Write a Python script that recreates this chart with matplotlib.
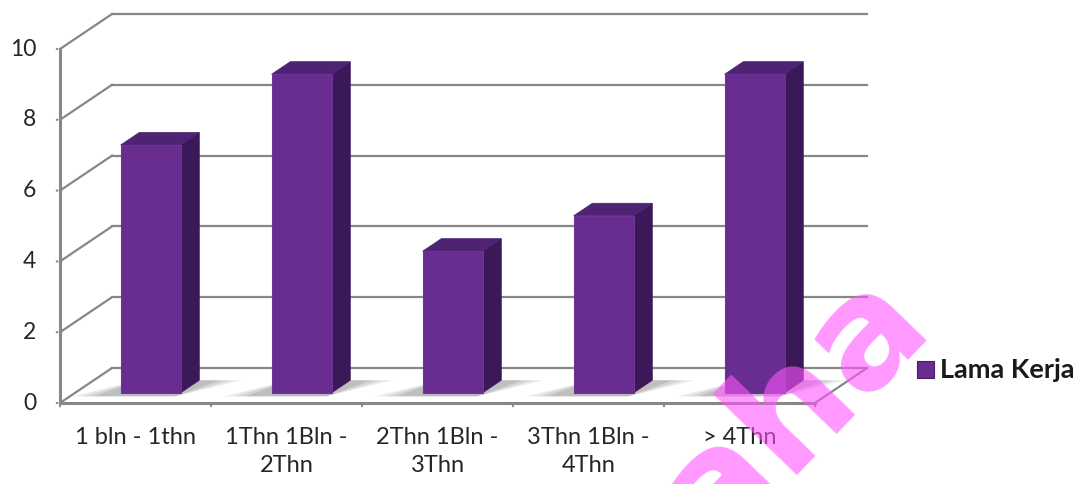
import numpy as np
import matplotlib
matplotlib.use("Agg")
import matplotlib.pyplot as plt
from matplotlib.patches import Polygon, Rectangle

# data
categories = ["1 bln - 1thn", "1Thn 1Bln -\n2Thn", "2Thn 1Bln -\n3Thn",
              "3Thn 1Bln -\n4Thn", "> 4Thn"]
values = [7, 9, 4, 5, 9]
yticks = [0, 2, 4, 6, 8, 10]
series_name = "Lama Kerja"

plt.rcParams['font.family'] = ['Lato', 'DejaVu Sans']

W, H = 1086, 484
fig = plt.figure(figsize=(W / 100, H / 100), dpi=100)
ax = fig.add_axes([0, 0, 1, 1])

# pixel layout of the front plane
px_x0, px_cat = 60, 151.0
px_y0, px_val = 403, 35.4
ax.set_xlim(-px_x0 / px_cat, (W - px_x0) / px_cat)
ax.set_ylim(-(H - px_y0) / px_val, px_y0 / px_val)
ax.axis("off")

# depth offset (category units, value units)
DX, DY = 52 / px_cat, 35 / px_val


def proj(x, y, d):
    return x + d * DX, y + d * DY


grid_c = "#878787"
lw = 1.6
n = len(categories)

# back wall grid + left wall
for v in yticks:
    x1, y1 = proj(0, v, 1)
    x2, y2 = proj(n, v, 1)
    ax.plot([x1, x2], [y1, y2], color=grid_c, lw=lw, zorder=1)
    xa, ya = proj(0, v, 0)
    ax.plot([xa, x1], [ya, y1], color=grid_c, lw=lw, zorder=1)
    ax.annotate(str(v), (0, v), xytext=(-24, 0), textcoords="offset pixels",
                ha="right", va="center", fontsize=16.5, color="#262626")
    ax.annotate("", (0, v), xytext=(-6, 0), textcoords="offset pixels",
                arrowprops=dict(arrowstyle="-", color=grid_c, lw=lw))

# floor right edge, front axes
xr, yr = proj(n, 0, 1)
ax.plot([n, xr], [0, yr], color=grid_c, lw=lw, zorder=1)
ax.plot([0, n], [0, 0], color=grid_c, lw=2.2, zorder=1)
ax.plot([0, 0], [0, yticks[-1]], color=grid_c, lw=2.2, zorder=1)
for i in range(n + 1):
    ax.annotate("", (i, 0), xytext=(0, -6), textcoords="offset pixels",
                arrowprops=dict(arrowstyle="-", color=grid_c, lw=lw))

# bars
d0, d1 = 0.29, 0.65
bw = 60 / px_cat
front_c, side_c, top_c = "#692C91", "#3B1858", "#4E2373"
for i, v in enumerate(values):
    xc = i + 0.5
    xl, xrr = xc - bw / 2, xc + bw / 2
    # soft shadow on the floor
    for k, a in enumerate([0.12, 0.14, 0.16]):
        ext = 0.28 - k * 0.07
        sh = [proj(xl - ext, 0, d0 - 0.1), proj(xrr, 0, d0 - 0.1),
              proj(xrr + ext, 0, d1), proj(xl, 0, d1)]
        ax.add_patch(Polygon(sh, closed=True, fc="#555555", ec="none",
                             alpha=a, zorder=2))
    front = [proj(xl, 0, d0), proj(xrr, 0, d0), proj(xrr, v, d0), proj(xl, v, d0)]
    side = [proj(xrr, 0, d0), proj(xrr, 0, d1), proj(xrr, v, d1), proj(xrr, v, d0)]
    top = [proj(xl, v, d0), proj(xrr, v, d0), proj(xrr, v, d1), proj(xl, v, d1)]
    ax.add_patch(Polygon(side, closed=True, fc=side_c, ec=side_c, lw=0.5, zorder=3))
    ax.add_patch(Polygon(top, closed=True, fc=top_c, ec=top_c, lw=0.5, zorder=3))
    ax.add_patch(Polygon(front, closed=True, fc=front_c, ec="#6f3498", lw=0.8, zorder=4))

# category labels
for i, lab in enumerate(categories):
    ax.annotate(lab, (i + 0.5, 0), xytext=(0, -24), textcoords="offset pixels",
                ha="center", va="top", fontsize=17, color="#262626",
                linespacing=1.4)

# legend
lx = (917 - px_x0) / px_cat
ly = (px_y0 - 378) / px_val
ax.add_patch(Rectangle((lx, ly), 17 / px_cat, 17 / px_val, fc=front_c,
                       ec="#4a1f6a", lw=0.8, zorder=5))
ax.annotate(series_name, (lx, ly + 8.5 / px_val), xytext=(23, 0),
            textcoords="offset pixels", ha="left", va="center",
            fontsize=19.5, fontweight="bold", color="#1a1a1a")

# watermark
ax.text((932 - px_x0) / px_cat, (px_y0 - 322) / px_val, "laha", rotation=46,
        rotation_mode="anchor", ha="right", va="baseline", fontsize=110,
        fontweight="bold", family="DejaVu Sans", color="#ff55ff", alpha=0.6,
        zorder=10, clip_on=True)

fig.savefig("out.png", dpi=100)
